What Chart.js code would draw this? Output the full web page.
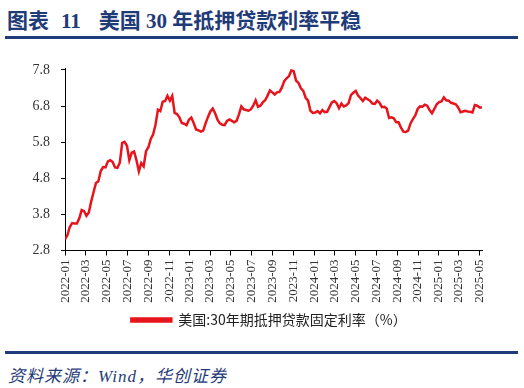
<!DOCTYPE html>
<html>
<head>
<meta charset="utf-8">
<script src="https://cdn.jsdelivr.net/npm/chart.js@4/dist/chart.umd.min.js"></script>
<style>
  body { margin: 0; width: 524px; height: 388px; background: #fff; position: relative; overflow: hidden; }
  #title { position: absolute; left: 7px; top: 4px; font: bold 21px "Liberation Serif", "Noto Sans CJK SC", serif; color: #1f3b78; white-space: nowrap; }
  .rule { position: absolute; left: 5px; width: 513px; height: 3px; background: #1f3b78; }
  #src { position: absolute; left: 8px; top: 362px; font: italic 17px "Liberation Serif", "Noto Sans CJK SC", serif; letter-spacing: 1px; color: #1f3b78; white-space: nowrap; }
  #c { position: absolute; left: 0; top: 40px; }
</style>
</head>
<body>
<div id="title"><span>图表</span><span style="margin-left:12px">11</span><span style="margin-left:18px">美国</span> 30 年抵押贷款利率平稳</div>
<div class="rule" style="top:36px"></div>
<canvas id="c" width="524" height="310"></canvas>
<div class="rule" style="top:351px"></div>
<div id="src">资料来源：Wind，华创证券</div>
<script>
// 周度数据，从 2021-12-30 起每周一个点
var startDate = '2021-12-30';
var seriesName = '美国:30年期抵押贷款固定利率（%）';
var rates = [
  3.11,
  // 2022
  3.22, 3.45, 3.56, 3.55, 3.55, 3.69, 3.92, 3.89, 3.76, 3.85, 4.16, 4.42, 4.67,
  4.72, 5.00, 5.11, 5.10, 5.27, 5.30, 5.25, 5.10, 5.09, 5.23, 5.78, 5.81, 5.70,
  5.30, 5.51, 5.54, 5.30, 4.99, 5.22, 5.13, 5.55, 5.66, 5.89, 6.02, 6.29, 6.70,
  6.66, 6.92, 6.94, 7.08, 6.95, 7.08, 6.61, 6.58, 6.49, 6.33, 6.31, 6.27, 6.42,
  // 2023
  6.48, 6.33, 6.15, 6.13, 6.09, 6.12, 6.32, 6.50, 6.65, 6.73, 6.60, 6.42, 6.32,
  6.28, 6.27, 6.39, 6.43, 6.39, 6.35, 6.39, 6.57, 6.79, 6.71, 6.69, 6.67, 6.71,
  6.81, 6.96, 6.78, 6.81, 6.90, 6.96, 7.09, 7.23, 7.18, 7.12, 7.18, 7.19, 7.31,
  7.49, 7.57, 7.63, 7.79, 7.76, 7.50, 7.44, 7.29, 7.22, 7.03, 6.95, 6.67, 6.61,
  // 2024
  6.62, 6.66, 6.60, 6.69, 6.63, 6.64, 6.77, 6.90, 6.94, 6.88, 6.74, 6.87, 6.79,
  6.82, 6.88, 7.10, 7.17, 7.22, 7.09, 7.02, 6.94, 7.03, 6.99, 6.95, 6.87, 6.86,
  6.95, 6.89, 6.77, 6.78, 6.73, 6.47, 6.49, 6.46, 6.35, 6.35, 6.20, 6.09, 6.08,
  6.12, 6.32, 6.44, 6.54, 6.72, 6.79, 6.78, 6.84, 6.81, 6.69, 6.60, 6.72, 6.85,
  // 2025
  6.91, 6.93, 7.04, 6.96, 6.95, 6.89, 6.87, 6.85, 6.76, 6.63, 6.65, 6.67, 6.65,
  6.64, 6.62, 6.83, 6.81, 6.76, 6.76
];
var xLabels = ['2022-01','2022-03','2022-05','2022-07','2022-09','2022-11',
  '2023-01','2023-03','2023-05','2023-07','2023-09','2023-11',
  '2024-01','2024-03','2024-05','2024-07','2024-09','2024-11',
  '2025-01','2025-03','2025-05'];
var yTicks = [2.8, 3.8, 4.8, 5.8, 6.8, 7.8];

// Tage seit 2022-01-01
function dayOf(s) {
  var p = s.split('-');
  return (Date.UTC(+p[0], +p[1] - 1, +(p[2] || 1)) - Date.UTC(2022, 0, 1)) / 864e5;
}
var d0 = dayOf(startDate);
var points = rates.map(function(v, i) { return { x: d0 + i * 7, y: v }; });
var labelAt = {};
xLabels.forEach(function(l) { labelAt[dayOf(l)] = l; });

var font = 'Liberation Serif';
var red = '#e8141c';

// Legende etwas nach rechts schieben (wie im Original)
var shiftLegend = {
  id: 'shiftLegend',
  afterLayout: function(chart) {
    chart.legend.left += 28;
    chart.legend.right += 28;
  }
};

new Chart(document.getElementById('c'), {
  type: 'line',
  data: {
    datasets: [{
      label: seriesName,
      data: points,
      borderColor: red,
      backgroundColor: red,
      borderWidth: 2.5,
      pointRadius: 0,
      tension: 0
    }]
  },
  options: {
    responsive: false,
    animation: false,
    devicePixelRatio: 1,
    layout: { padding: { top: 28, left: 0, right: 42, bottom: 13 } },
    plugins: {
      tooltip: { enabled: false },
      legend: {
        position: 'bottom',
        labels: {
          boxWidth: 40, boxHeight: 3, padding: 5.5,
          color: '#222',
          font: { family: '"Noto Sans CJK SC"', size: 14 }
        }
      }
    },
    scales: {
      x: {
        type: 'linear',
        min: d0,
        max: points[points.length - 1].x,
        afterBuildTicks: function(s) { s.ticks = xLabels.map(function(l) { return { value: dayOf(l) }; }); },
        afterFit: function(s) { s.height = 57; },
        grid: { drawOnChartArea: false, drawTicks: true, tickLength: 5, color: '#000' },
        border: { display: true, color: '#000', width: 1 },
        ticks: {
          autoSkip: false, minRotation: 90, maxRotation: 90, padding: 4,
          color: '#333', font: { family: font, size: 13 },
          callback: function(v) { return labelAt[v] || ''; }
        }
      },
      y: {
        min: 2.8,
        max: 7.854,
        afterBuildTicks: function(s) { s.ticks = yTicks.map(function(v) { return { value: v }; }); },
        afterFit: function(s) { s.width = 65; },
        grid: { drawOnChartArea: false, drawTicks: true, tickLength: 4, color: '#000' },
        border: { display: true, color: '#000', width: 1 },
        ticks: {
          padding: 11, color: '#333', font: { family: font, size: 14 },
          callback: function(v) { return v.toFixed(1); }
        }
      }
    }
  },
  plugins: [shiftLegend]
});
</script>
</body>
</html>
